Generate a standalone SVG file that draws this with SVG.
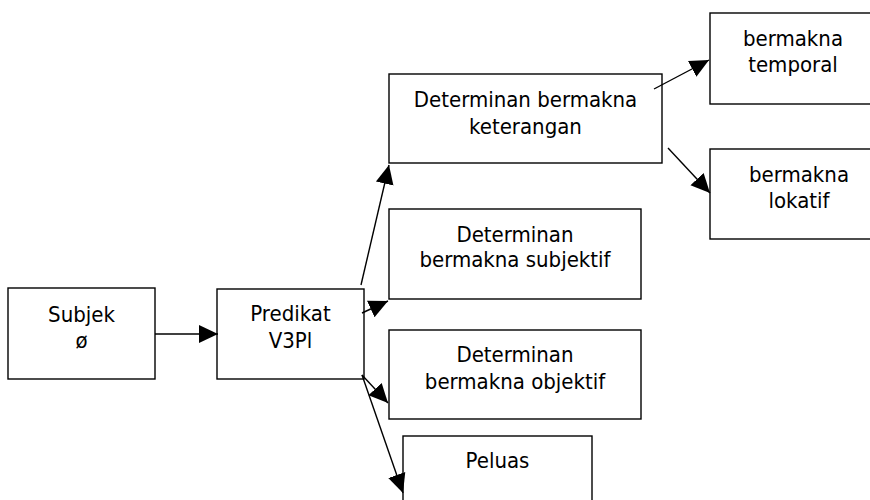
<svg xmlns="http://www.w3.org/2000/svg" width="870" height="500" viewBox="0 0 870 500">
<style>
  .box { fill: #fff; stroke: #000; stroke-width: 1.4; }
  .lbl { font-family: "DejaVu Sans Condensed", "DejaVu Sans", Tahoma, sans-serif; font-size: 22px; fill: #000; text-anchor: middle; }
  .edge { stroke: #000; stroke-width: 1.4; fill: none; marker-end: url(#arrow); }
</style>
<defs>
  <marker id="arrow" markerUnits="userSpaceOnUse" markerWidth="20" markerHeight="20" viewBox="0 0 20 20" refX="19" refY="10" orient="auto">
    <path d="M0,1 L19,10 L0,19 Z" fill="#000"/>
  </marker>
</defs>
<rect width="870" height="500" fill="#fff"/>
<g id="subjek">
  <rect class="box" x="8" y="288" width="147" height="91"/>
  <text class="lbl" x="81.5" y="322">Subjek</text>
  <text class="lbl" x="81.5" y="348">ø</text>
</g>
<g id="predikat">
  <rect class="box" x="217" y="289" width="147" height="90"/>
  <text class="lbl" x="290.5" y="321">Predikat</text>
  <text class="lbl" x="290.5" y="348">V3Pl</text>
</g>
<g id="keterangan">
  <rect class="box" x="389" y="74" width="273" height="89"/>
  <text class="lbl" x="525.5" y="107">Determinan bermakna</text>
  <text class="lbl" x="525.5" y="134">keterangan</text>
</g>
<g id="subjektif">
  <rect class="box" x="389" y="209" width="252" height="90"/>
  <text class="lbl" x="515" y="242">Determinan</text>
  <text class="lbl" x="515" y="267">bermakna subjektif</text>
</g>
<g id="objektif">
  <rect class="box" x="389" y="330" width="252" height="89"/>
  <text class="lbl" x="515" y="362">Determinan</text>
  <text class="lbl" x="515" y="389">bermakna objektif</text>
</g>
<g id="peluas">
  <rect class="box" x="403" y="436" width="189" height="80"/>
  <text class="lbl" x="497.5" y="468">Peluas</text>
</g>
<g id="temporal">
  <rect class="box" x="710" y="13" width="166" height="91"/>
  <text class="lbl" x="793" y="46">bermakna</text>
  <text class="lbl" x="793" y="72">temporal</text>
</g>
<g id="lokatif">
  <rect class="box" x="710" y="149" width="178" height="90"/>
  <text class="lbl" x="799" y="182">bermakna</text>
  <text class="lbl" x="799" y="208">lokatif</text>
</g>
<g id="connectors">
  <line class="edge" x1="155" y1="334" x2="218" y2="334"/>
  <line class="edge" x1="361" y1="285" x2="389" y2="165"/>
  <line class="edge" x1="362" y1="313" x2="388" y2="301"/>
  <line class="edge" x1="362" y1="375" x2="388" y2="403"/>
  <line class="edge" x1="362" y1="375" x2="403" y2="493"/>
  <line class="edge" x1="654" y1="89" x2="709" y2="60"/>
  <line class="edge" x1="668" y1="148" x2="710" y2="193"/>
</g>
</svg>
